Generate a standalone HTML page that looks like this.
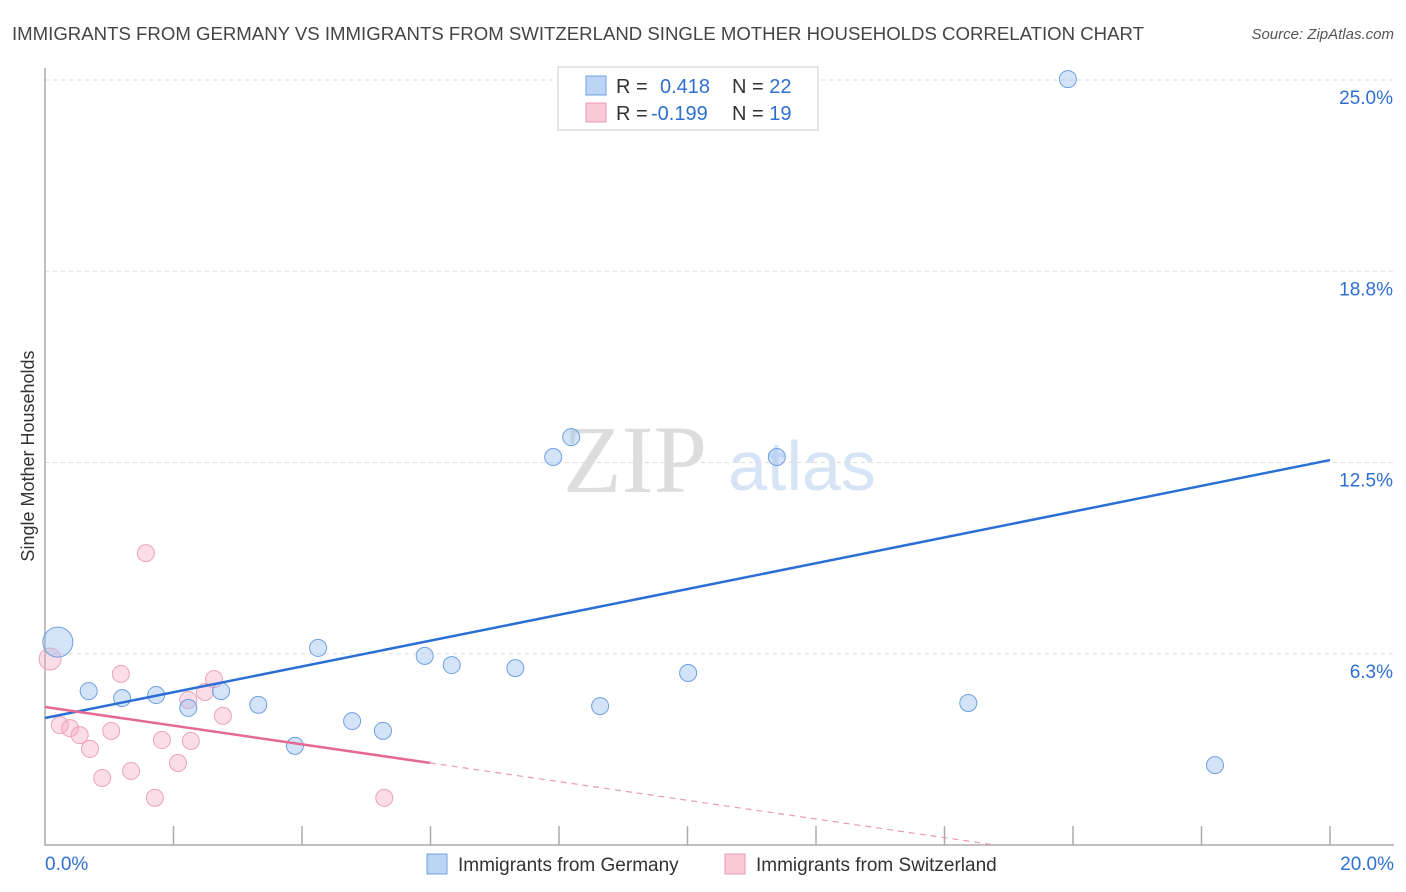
<!DOCTYPE html>
<html><head><meta charset="utf-8"><style>
body{margin:0;background:#fff;font-family:"Liberation Sans",sans-serif}
svg{display:block}
</style></head><body>
<svg id="chart" width="1406" height="892">
<text x="12" y="40" font-size="18" fill="#444" textLength="1132" lengthAdjust="spacingAndGlyphs">IMMIGRANTS FROM GERMANY VS IMMIGRANTS FROM SWITZERLAND SINGLE MOTHER HOUSEHOLDS CORRELATION CHART</text>
<text x="1394" y="39" font-size="15" fill="#555" font-style="italic" text-anchor="end">Source: ZipAtlas.com</text>
<text x="635" y="492" font-size="96" fill="#ddd" font-family="Liberation Serif,serif" text-anchor="middle">ZIP</text>
<text x="802" y="490" font-size="70" fill="#d6e4f6" text-anchor="middle">atlas</text>
<text transform="translate(34,456) rotate(-90)" font-size="18" fill="#333" text-anchor="middle">Single Mother Households</text>
<g id="grid"></g><g id="marks"></g>
<g>
<rect x="558" y="67" width="260" height="63" fill="#fff" stroke="#ccc"/>
<rect x="586" y="76" width="20" height="19" fill="#bcd5f5" stroke="#6f9fe0"/>
<rect x="586" y="103" width="20" height="19" fill="#f9c9d7" stroke="#ea9ab3"/>
<text x="616" y="93" font-size="20" fill="#333">R = <tspan x="660" fill="#2f6fd1">0.418</tspan><tspan x="732" fill="#333">N = </tspan><tspan fill="#2f6fd1">22</tspan></text>
<text x="616" y="120" font-size="20" fill="#333">R = <tspan x="651" fill="#2f6fd1">-0.199</tspan><tspan x="732" fill="#333">N = </tspan><tspan fill="#2f6fd1">19</tspan></text>
</g>
<g>
<rect x="427" y="854" width="20" height="20" fill="#bcd5f5" stroke="#6f9fe0"/>
<text x="458" y="871" font-size="19" fill="#333">Immigrants from Germany</text>
<rect x="725" y="854" width="20" height="20" fill="#f9c9d7" stroke="#ea9ab3"/>
<text x="756" y="871" font-size="19" fill="#333">Immigrants from Switzerland</text>
</g>
</svg>
<script>
const yTicks=[6.25,12.5,18.75,25];
const yTickLabels=["6.3%","12.5%","18.8%","25.0%"];
const xTicks=[0,2,4,6,8,10,12,14,16,18,20];
const xLabels=["0.0%","20.0%"];
const germanyX=[0.20,0.68,1.20,1.73,2.23,2.74,3.32,3.89,4.25,4.78,5.26,5.91,6.33,7.32,7.91,8.19,8.64,10.01,11.39,14.37,15.92,18.21];
const germanyY=[6.63,5.03,4.80,4.90,4.48,5.03,4.58,3.24,6.44,4.05,3.73,6.18,5.88,5.78,12.68,13.33,4.54,5.62,12.68,4.64,25.03,2.61];
const germanyR=[15,8.5,8.5,8.5,8.5,8.5,8.5,8.5,8.5,8.5,8.5,8.5,8.5,8.5,8.5,8.5,8.5,8.5,8.5,8.5,8.5,8.5];
const swissX=[0.08,0.23,0.39,0.54,0.70,0.89,1.03,1.18,1.34,1.57,1.71,1.82,2.07,2.23,2.27,2.49,2.63,2.77,5.28];
const swissY=[6.08,3.92,3.82,3.59,3.14,2.19,3.73,5.59,2.42,9.54,1.54,3.43,2.68,4.74,3.40,5.00,5.42,4.22,1.54];
const germanyTrend=[4.15,12.58];
const swissTrend=[4.51,-0.305];
const sx=v=>45+v*64.25, sy=v=>845-v*30.6;
const NS="http://www.w3.org/2000/svg";
const grid=document.getElementById('grid'), marks=document.getElementById('marks');
function mk(p,tag,a){const e=document.createElementNS(NS,tag);for(const k in a)e.setAttribute(k,a[k]);p.appendChild(e);return e;}
yTicks.forEach((t,i)=>{
 const l=mk(grid,'line',{x1:45,x2:1394,y1:sy(t),y2:sy(t),stroke:'#ddd','stroke-dasharray':'4,4'});
 
 
 const tx=mk(grid,'text',{x:1393,y:sy(t)+24,'font-size':19,fill:'#2f6fd1','text-anchor':'end'});
 tx.textContent=yTickLabels[i];
 
 
});
const ax=mk(grid,'path',{d:`M45 68 V845 H1394`,stroke:'#aaa',fill:'none','stroke-width':1.5});


xTicks.forEach(t=>{
 if(t===0)return;
 const l=mk(grid,'line',{x1:sx(t),x2:sx(t),y1:826,y2:845,stroke:'#aaa','stroke-width':1.5});
 
 
});
[[0,'start',45],[20,'end',1394]].forEach(([v,anc,x],i)=>{
 const tx=mk(grid,'text',{x:x,y:870,'font-size':19,fill:'#2f6fd1','text-anchor':anc});
 tx.textContent=xLabels[i];
 
 
});
swissX.forEach((x,i)=>{
 const c=mk(marks,'circle',{cx:sx(x),cy:sy(swissY[i]),r:i===0?11:8.5,fill:'rgba(246,170,195,0.4)',stroke:'#eba3b8','stroke-width':1});
 
 
});
germanyX.forEach((x,i)=>{
 const c=mk(marks,'circle',{cx:sx(x),cy:sy(germanyY[i]),r:germanyR[i],fill:'rgba(160,195,240,0.45)',stroke:'#6f9fe0','stroke-width':1});
 
 
});
const bl=mk(marks,'line',{x1:sx(0),y1:sy(germanyTrend[0]),x2:sx(20),y2:sy(germanyTrend[1]),stroke:'#2b6fd6','stroke-width':2.5});


const pEnd=5.99, pZero=-swissTrend[0]/swissTrend[1];
const pl=mk(marks,'line',{x1:sx(0),y1:sy(swissTrend[0]),x2:sx(pEnd),y2:sy(swissTrend[0]+swissTrend[1]*pEnd),stroke:'#e46a93','stroke-width':2.5});


const pd=mk(marks,'line',{x1:sx(pEnd),y1:sy(swissTrend[0]+swissTrend[1]*pEnd),x2:sx(pZero),y2:sy(0),stroke:'#e89ab3','stroke-width':1.2,'stroke-dasharray':'6,5'});


</script>
</body></html>
